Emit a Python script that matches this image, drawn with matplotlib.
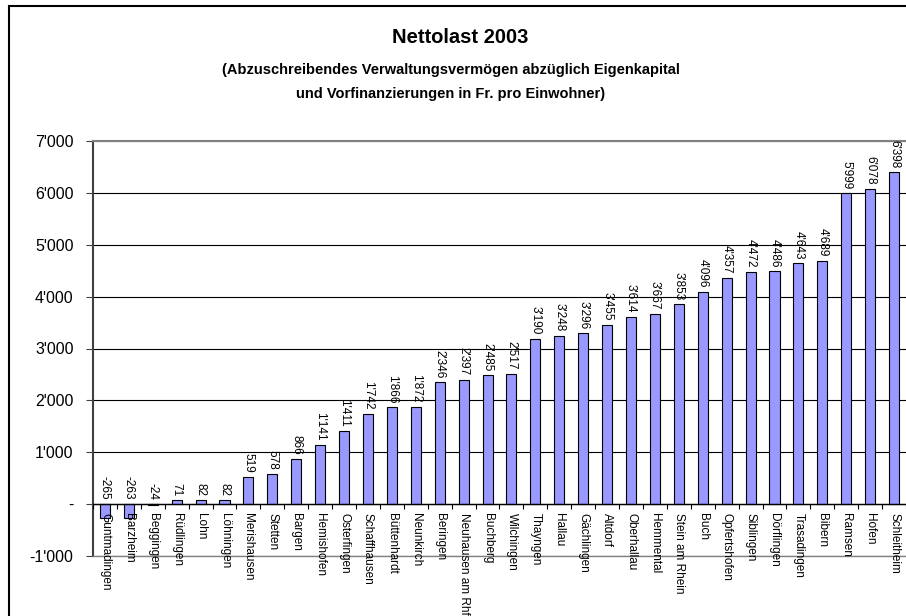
import matplotlib
matplotlib.use("Agg")
import matplotlib.pyplot as plt
import numpy as np
from matplotlib.patches import Rectangle
from matplotlib.ticker import FuncFormatter

plt.rcParams['font.family'] = ['Liberation Sans', 'DejaVu Sans']

# Gemeinden und Nettolast pro Einwohner (Fr.)
gemeinden = [
    "Guntmadingen", "Barzheim", "Beggingen", "Rüdlingen", "Lohn", "Löhningen",
    "Merishausen", "Stetten", "Bargen", "Hemishofen", "Osterfingen",
    "Schaffhausen", "Büttenhardt", "Neunkirch", "Beringen", "Neuhausen am Rhf",
    "Buchberg", "Wilchingen", "Thayngen", "Hallau", "Gächlingen", "Altdorf",
    "Oberhallau", "Hemmental", "Stein am Rhein", "Buch", "Opfertshofen",
    "Siblingen", "Dörflingen", "Trasadingen", "Bibern", "Ramsen", "Hofen",
    "Schleitheim",
]
nettolast = [
    -265, -263, -24, 71, 82, 82,
    519, 578, 866, 1141, 1411,
    1742, 1866, 1872, 2346, 2397,
    2485, 2517, 3190, 3248, 3296, 3455,
    3614, 3667, 3853, 4096, 4357,
    4472, 4486, 4643, 4689, 5999, 6078,
    6398,
]
y_ticks = [-1000, 0, 1000, 2000, 3000, 4000, 5000, 6000, 7000]


def fmt_zahl(v):
    if v == 0:
        return "-"
    return f"{v:,.0f}".replace(",", "'")


fig = plt.figure(figsize=(9.06, 6.16), dpi=100)
ax = fig.add_axes([93 / 906, 1 - 556 / 616, 1 - 93 / 906, (556 - 141) / 616])

x = np.arange(len(gemeinden))
ax.bar(x, nettolast, width=0.42, color='#9999FF', edgecolor='black',
       linewidth=0.8, zorder=3)

ax.set_xlim(-0.5, len(gemeinden) - 0.5)
ax.set_ylim(-1000, 7000)
ax.set_yticks(y_ticks)
ax.yaxis.set_major_formatter(FuncFormatter(lambda v, p: fmt_zahl(v)))
ax.tick_params(axis='y', labelsize=11.5, length=5, width=0.8, pad=9,
               color='#404040')
ax.set_xticks([])

ax.grid(axis='y', color='black', linewidth=0.8)
ax.set_axisbelow(True)
ax.axhline(0, color='black', linewidth=1, zorder=4)
ax.vlines(np.arange(len(gemeinden) + 1) - 0.5, -90, 0, color='black',
          linewidth=0.8, zorder=4)

for s in ['top', 'bottom']:
    ax.spines[s].set_color('#808080')
    ax.spines[s].set_linewidth(1.5)
ax.spines['bottom'].set_linewidth(1.0)
ax.spines['right'].set_visible(False)
ax.spines['left'].set_color('#404040')
ax.spines['left'].set_linewidth(1.5)

# Werte und Gemeindenamen
for i, (name, v) in enumerate(zip(gemeinden, nettolast)):
    ax.annotate(fmt_zahl(v), (i, max(v, 0)), xytext=(0, 3),
                textcoords='offset points', rotation=270, ha='center',
                va='bottom', fontsize=8.5, annotation_clip=False, zorder=5)
    ax.annotate(name, (i, 0), xytext=(0, -6.5), textcoords='offset points',
                rotation=270, ha='center', va='top', fontsize=8.5,
                annotation_clip=False, zorder=5)

# Titel
fig.text(460 / 906, 1 - 43 / 616, "Nettolast 2003", ha='center',
         va='baseline', fontsize=14.5, fontweight='bold')
fig.text(451 / 906, 1 - 74 / 616,
         "(Abzuschreibendes Verwaltungsvermögen abzüglich Eigenkapital",
         ha='center', va='baseline', fontsize=10.5, fontweight='bold')
fig.text(451 / 906, 1 - 98 / 616,
         "und Vorfinanzierungen in Fr. pro Einwohner)",
         ha='center', va='baseline', fontsize=10.5, fontweight='bold')

# Rahmen
fig.add_artist(Rectangle((8.5 / 906, -0.1), 1.0, 1.1 - 5.5 / 616,
                         transform=fig.transFigure, fill=False,
                         edgecolor='black', linewidth=1.5, clip_on=False))

fig.savefig("out.png", dpi=100)
